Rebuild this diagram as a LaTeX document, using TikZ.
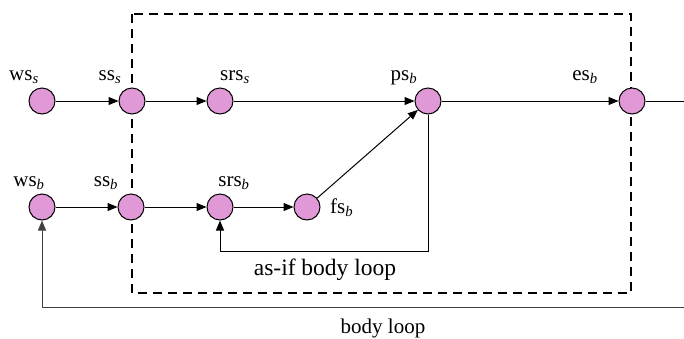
\documentclass[tikz,border=0pt]{standalone}
\usepackage{fontspec}
\setmainfont{Liberation Serif}
\usetikzlibrary{arrows.meta}
\definecolor{nodepink}{RGB}{224,152,214}
\newcommand{\lb}[2]{#1\textsubscript{\textit{#2}}}
\tikzset{
  st/.style={circle,draw=black,line width=1pt,fill=nodepink,minimum size=26pt,inner sep=0pt},
  arr/.style={line width=1pt,-{Triangle[length=10pt,width=8pt]}},
  ln/.style={line width=1pt},
  lbl/.style={anchor=base,inner sep=0pt,font=\fontsize{21}{24}\selectfont},
  box/.style={line width=2pt,dash pattern=on 9pt off 6pt}
}
\begin{document}
\begin{tikzpicture}[x=1pt,y=-1pt]
\useasboundingbox (0,0) rectangle (684,338);
\draw[box] (132,14) rectangle (631,293);
% top row
\node[st] (wss) at (42,101) {};
\node[st] (sss) at (132,101) {};
\node[st] (srss) at (220,101) {};
\node[st] (psb) at (428,101) {};
\node[st] (esb) at (632,101) {};
% bottom row
\node[st] (wsb) at (42,207) {};
\node[st] (ssb) at (131,207) {};
\node[st] (srsb) at (220,207) {};
\node[st] (fsb) at (307,207) {};
% labels
\node[lbl] (l1) at (24,80) {\lb{ws}{s}};
\node[lbl] (l2) at (110,80) {\lb{ss}{s}};
\node[lbl] (l3) at (235,80) {\lb{srs}{s}};
\node[lbl] (l4) at (404,80) {\lb{ps}{b}};
\node[lbl] (l5) at (585,80) {\lb{es}{b}};
\node[lbl] (l6) at (29,186) {\lb{ws}{b}};
\node[lbl] (l7) at (106,186) {\lb{ss}{b}};
\node[lbl] (l8) at (234,186) {\lb{srs}{b}};
\node[lbl,anchor=base west] (l9) at (330,213) {\lb{fs}{b}};
\node[lbl,font=\fontsize{23.5}{26}\selectfont] (l10) at (325,275) {as-if body loop};
\node[lbl] (l11) at (383,333) {body loop};
% coordinates
\coordinate (rt) at (684,101);
\coordinate (a1) at (428,251);
\coordinate (a2) at (220,251);
\coordinate (b1) at (684,307);
\coordinate (b2) at (42,307);
% edges
\draw[arr] (wss) -- (sss);
\draw[arr] (sss) -- (srss);
\draw[arr] (srss) -- (psb);
\draw[arr] (psb) -- (esb);
\draw[ln] (esb) -- (rt);
\draw[arr] (wsb) -- (ssb);
\draw[arr] (ssb) -- (srsb);
\draw[arr] (srsb) -- (fsb);
\draw[arr] (fsb) -- (psb);
\draw[arr] (psb.south) -- (a1) -- (a2) -- (srsb.south);
\draw[arr,draw=black!75] (b1) -- (b2) -- (wsb.south);
\end{tikzpicture}
\end{document}
